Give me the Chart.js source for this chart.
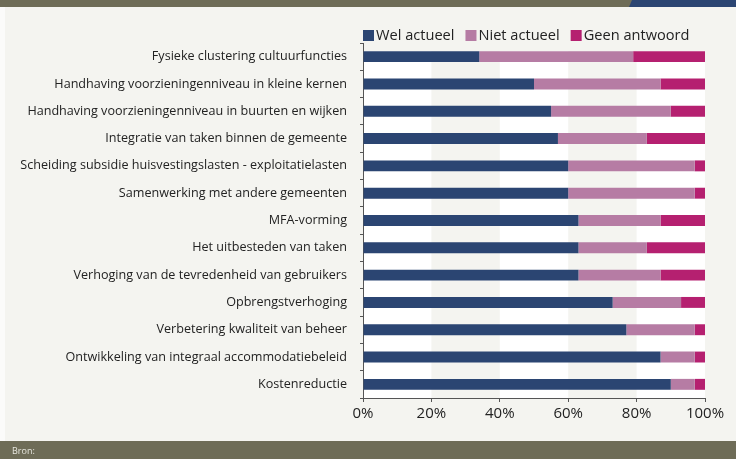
<!DOCTYPE html>
<html>
<head>
<meta charset="utf-8">
<script src="https://cdn.jsdelivr.net/npm/chart.js@4"></script>
<style>
  html, body { margin: 0; padding: 0; background: #f4f4f0; }
  #wrap { width: 736px; height: 459px; position: relative; }
</style>
</head>
<body>
<div id="wrap"><canvas id="barChart" width="736" height="459"></canvas></div>
<script>
var categories = [
    'Fysieke clustering cultuurfuncties',
    'Handhaving voorzieningenniveau in kleine kernen',
    'Handhaving voorzieningenniveau in buurten en wijken',
    'Integratie van taken binnen de gemeente',
    'Scheiding subsidie huisvestingslasten - exploitatielasten',
    'Samenwerking met andere gemeenten',
    'MFA-vorming',
    'Het uitbesteden van taken',
    'Verhoging van de tevredenheid van gebruikers',
    'Opbrengstverhoging',
    'Verbetering kwaliteit van beheer',
    'Ontwikkeling van integraal accommodatiebeleid',
    'Kostenreductie'
];
var welActueel = [34, 50, 55, 57, 60, 60, 63, 63, 63, 73, 77, 87, 90];
var nietActueel = [45, 37, 35, 26, 37, 37, 24, 20, 24, 20, 20, 10, 7];
var geenAntwoord = [21, 13, 10, 17, 3, 3, 13, 17, 13, 7, 3, 3, 3];
var xTicks = [0, 20, 40, 60, 80, 100];

var FONT = "'Open Sans', sans-serif";
var TEXT = '#222222';

// achtergrond, banden, kop- en voetbalk
var decor = {
    id: 'decor',
    beforeDraw: function (chart) {
        var c = chart.ctx, w = chart.width, h = chart.height;
        c.save();
        c.fillStyle = '#f4f4f0';
        c.fillRect(0, 0, w, h);
        c.fillStyle = '#fbfbfa';
        c.fillRect(0, 7, 5, 434);
        var a = chart.chartArea, x = chart.scales.x;
        c.fillStyle = '#ffffff';
        for (var i = 0; i < xTicks.length - 1; i += 2) {
            var x0 = x.getPixelForValue(xTicks[i]);
            var x1 = x.getPixelForValue(xTicks[i + 1]);
            c.fillRect(x0, a.top + 8, x1 - x0, a.bottom - a.top - 8);
        }
        c.restore();
    },
    afterDraw: function (chart) {
        var c = chart.ctx, w = chart.width, h = chart.height;
        c.save();
        // kopbalk
        c.fillStyle = '#6e6c57';
        c.fillRect(0, 0, w, 7);
        c.fillStyle = '#2b4572';
        c.beginPath();
        c.moveTo(632, 0); c.lineTo(w, 0); c.lineTo(w, 7); c.lineTo(629, 7);
        c.closePath(); c.fill();
        // voetbalk
        c.fillStyle = '#6e6c57';
        c.fillRect(0, 441, w, h - 441);
        c.fillStyle = '#e6e6de';
        c.font = '9px ' + FONT;
        c.textBaseline = 'middle';
        c.fillText('Bron:', 12, 451);
        // legenda
        var lx = chart.chartArea.left, ly = 35.5;
        c.font = '14.6px ' + FONT;
        chart.data.datasets.forEach(function (ds) {
            c.fillStyle = ds.backgroundColor;
            c.fillRect(lx, ly - 5.5, 11, 11);
            c.fillStyle = TEXT;
            c.fillText(ds.label, lx + 13, ly);
            lx += 13 + c.measureText(ds.label).width + 11;
        });
        c.restore();
    }
};

var ctxBar = document.getElementById('barChart').getContext('2d');
var barChart = new Chart(ctxBar, {
    type: 'bar',
    data: {
        labels: categories,
        datasets: [{
            label: 'Wel actueel',
            data: welActueel,
            backgroundColor: '#2b4572'
        }, {
            label: 'Niet actueel',
            data: nietActueel,
            backgroundColor: '#b67ca4'
        }, {
            label: 'Geen antwoord',
            data: geenAntwoord,
            backgroundColor: '#b52070'
        }]
    },
    options: {
        indexAxis: 'y',
        responsive: false,
        animation: false,
        barPercentage: 0.4,
        categoryPercentage: 1,
        layout: { padding: { left: 0, right: 31, top: 43, bottom: 18 } },
        plugins: {
            legend: { display: false },
            tooltip: { enabled: false }
        },
        scales: {
            x: {
                stacked: true,
                min: 0,
                max: 100,
                afterFit: function (s) { s.height = 43; },
                afterBuildTicks: function (s) {
                    s.ticks = xTicks.map(function (v) { return { value: v }; });
                },
                grid: { drawOnChartArea: false, tickLength: 4, color: '#555555' },
                border: { color: '#555555', width: 1 },
                ticks: {
                    color: TEXT,
                    font: { family: FONT, size: 15 },
                    padding: 3,
                    callback: function (v) { return v + '%'; }
                }
            },
            y: {
                stacked: true,
                afterFit: function (s) { s.width = 363; },
                grid: { drawOnChartArea: false, tickLength: 3, offset: true, color: '#555555' },
                border: { color: '#555555', width: 1 },
                ticks: {
                    color: TEXT,
                    font: { family: FONT, size: 12.6 },
                    padding: 13
                }
            }
        }
    },
    plugins: [decor]
});
</script>
</body>
</html>
